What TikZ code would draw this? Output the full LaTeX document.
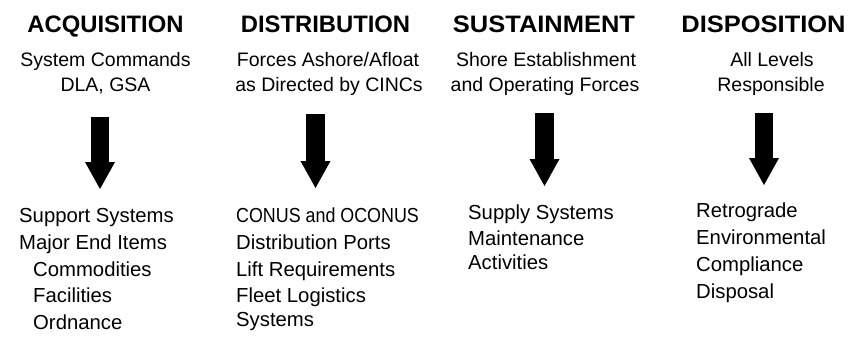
\documentclass[tikz,border=0pt]{standalone}
\usepackage{fontspec}
\setmainfont{Liberation Sans}
\usetikzlibrary{arrows.meta}
\tikzset{
        % headings over each column
        colhead/.style={anchor=base, inner sep=0pt, font=\bfseries\fontsize{23.8}{28}\selectfont},
        % who is responsible, under the heading
        colsub/.style={anchor=base, inner sep=0pt, font=\fontsize{19.5}{24}\selectfont},
        % the items below the arrow
        colitem/.style={anchor=base west, inner sep=0pt, font=\fontsize{20.3}{24}\selectfont},
        % thick block arrow
        blockarrow/.style={line width=18.5pt, -{Triangle[width=30pt,length=27pt,line width=0pt]}}
    }
\begin{document}
\begin{tikzpicture}[x=1pt,y=1pt,yscale=-1]
\useasboundingbox (0,0) rectangle (851,343);

% Text Node
\node [colhead] (acqhead) at (105.5,32) {ACQUISITION};
% Text Node
\node [colhead] (dishead) at (325.5,32) {DISTRIBUTION};
% Text Node
\node [colhead] (sushead) at (544,32) {\addfontfeature{FakeStretch=1.07}SUSTAINMENT};
% Text Node
\node [colhead] (dsphead) at (763.5,32) {\addfontfeature{FakeStretch=1.07}DISPOSITION};

% Text Node
\node [colsub] (acqsubA) at (105.5,66) {System Commands};
\node [colsub] (acqsubB) at (105.5,91) {DLA, GSA};
% Text Node
\node [colsub] (dissubA) at (328,66) {Forces Ashore/Afloat};
\node [colsub] (dissubB) at (329,91) {as Directed by CINCs};
% Text Node
\node [colsub] (sussubA) at (546,66) {Shore Establishment};
\node [colsub] (sussubB) at (545,91) {and Operating Forces};
% Text Node
\node [colsub] (dspsubA) at (772,66) {All Levels};
\node [colsub] (dspsubB) at (771,91) {Responsible};

%Block Arrows
\coordinate (acqtop) at (100,117);
\coordinate (acqtip) at (100,189);
\coordinate (distop) at (315.5,114);
\coordinate (distip) at (315.5,188);
\coordinate (sustop) at (544.5,113);
\coordinate (sustip) at (544.5,186);
\coordinate (dsptop) at (764,113);
\coordinate (dsptip) at (764,185);
\draw [blockarrow] (acqtop) -- (acqtip);
\draw [blockarrow] (distop) -- (distip);
\draw [blockarrow] (sustop) -- (sustip);
\draw [blockarrow] (dsptop) -- (dsptip);

% Text Node
\node [colitem] (acqitemA) at (19,222) {Support Systems};
\node [colitem] (acqitemB) at (19,249) {Major End Items};
\node [colitem] (acqitemC) at (33,276) {Commodities};
\node [colitem] (acqitemD) at (33,302.5) {Facilities};
\node [colitem] (acqitemE) at (33,329.5) {Ordnance};
% Text Node
\node [colitem] (disitemA) at (236,222) {\addfontfeature{FakeStretch=0.88}CONUS and OCONUS};
\node [colitem] (disitemB) at (236,249) {Distribution Ports};
\node [colitem] (disitemC) at (236,276) {Lift Requirements};
\node [colitem] (disitemD) at (236,302.5) {Fleet Logistics};
\node [colitem] (disitemE) at (236,326) {Systems};
% Text Node
\node [colitem] (susitemA) at (468,219) {Supply Systems};
\node [colitem] (susitemB) at (468,245.5) {Maintenance};
\node [colitem] (susitemC) at (468,269.5) {Activities};
% Text Node
\node [colitem] (dspitemA) at (696,217) {Retrograde};
\node [colitem] (dspitemB) at (696,244) {Environmental};
\node [colitem] (dspitemC) at (696,271) {Compliance};
\node [colitem] (dspitemD) at (696,298) {Disposal};

\end{tikzpicture}
\end{document}
